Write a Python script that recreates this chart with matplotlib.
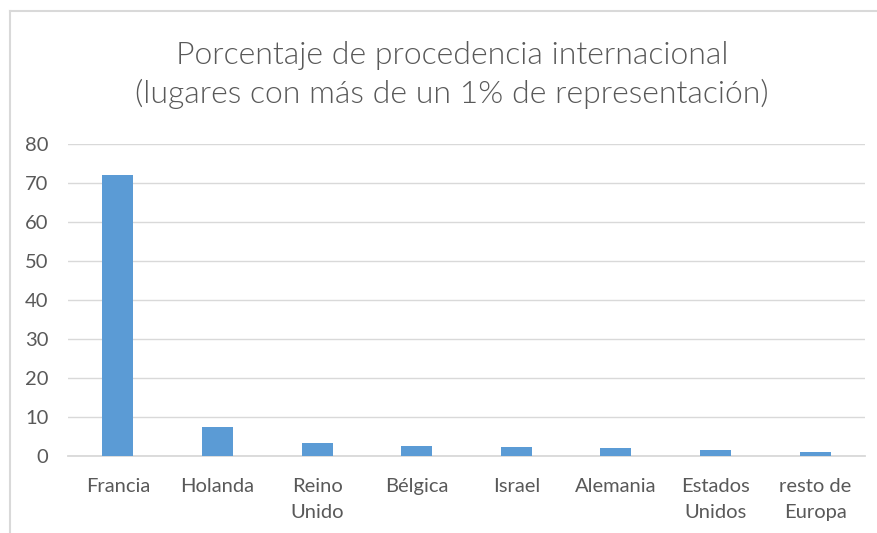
import matplotlib
matplotlib.use("Agg")
import matplotlib.pyplot as plt
from matplotlib.lines import Line2D

categories = ["Francia", "Holanda", "Reino\nUnido", "Bélgica", "Israel",
              "Alemania", "Estados\nUnidos", "resto de\nEuropa"]
values = [72.0, 7.5, 3.3, 2.6, 2.35, 2.0, 1.5, 1.1]
yticks = [0, 10, 20, 30, 40, 50, 60, 70, 80]
title = "Porcentaje de procedencia internacional\n(lugares con más de un 1% de representación)"

plt.rcParams['font.family'] = ['Lato', 'DejaVu Sans']
W, H = 877, 533
fig = plt.figure(figsize=(W / 100, H / 100), dpi=100)
fig.patch.set_facecolor("white")

ax = fig.add_axes([68 / W, 1 - 456 / H, (865 - 68) / W, (456 - 144) / H])
x = list(range(len(categories)))
ax.bar(x, values, width=0.31, color="#5b9bd5", zorder=3)
ax.set_xlim(-0.5, len(categories) - 0.5)
ax.set_ylim(0, 80)
ax.set_yticks(yticks)
ax.set_xticks(x)
ax.set_xticklabels(categories, fontsize=14.5, color="#595959", linespacing=1.65)
ax.tick_params(axis="y", labelsize=14.5, labelcolor="#595959", length=0, pad=14)
ax.tick_params(axis="x", length=0, pad=16)
for s in ["top", "right", "left"]:
    ax.spines[s].set_visible(False)
ax.spines["bottom"].set_color("#d9d9d9")
ax.spines["bottom"].set_linewidth(1.3)
ax.grid(axis="y", color="#d9d9d9", linewidth=1.0, zorder=0)

fig.text(452 / W, 1 - 75 / H, title, ha="center", va="center",
         fontsize=23, color="#595959", fontweight=300, linespacing=1.35)

# chart border
fig.add_artist(Line2D([10 / W, 10 / W], [0, 1 - 11 / H], transform=fig.transFigure,
                      color="#d9d9d9", linewidth=1.5))
fig.add_artist(Line2D([10 / W, 1], [1 - 11 / H, 1 - 11 / H], transform=fig.transFigure,
                      color="#d9d9d9", linewidth=1.5))

fig.savefig("out.png", dpi=100, facecolor="white")
